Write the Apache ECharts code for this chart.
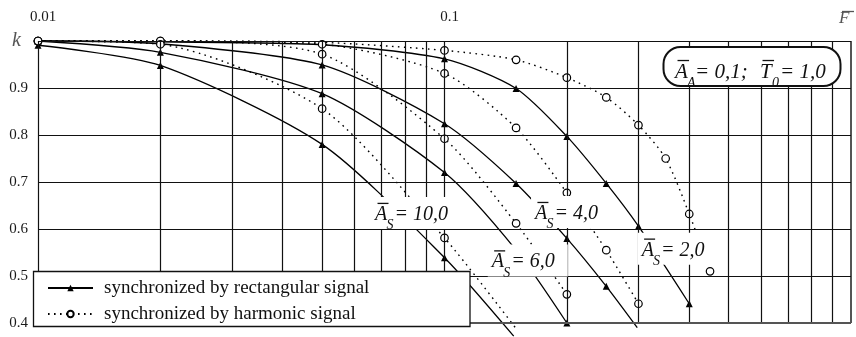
<!DOCTYPE html>
<html>
<head>
<meta charset="utf-8">
<script src="https://cdn.jsdelivr.net/npm/echarts@6/dist/echarts.min.js"></script>
<style>
  html, body { margin: 0; padding: 0; background: #fff; }
  #chart { width: 856px; height: 337px; }
</style>
</head>
<body>
<div id="chart"></div>
<script>
// Synchronization coefficient k versus normalized frequency F (log scale)

// axis ticks
const kTicks = [0.4, 0.5, 0.6, 0.7, 0.8, 0.9, 1.0];
const fGrid = [0.01, 0.02, 0.03, 0.04, 0.05, 0.06, 0.07, 0.08, 0.09,
               0.1, 0.2, 0.3, 0.4, 0.5, 0.6, 0.7, 0.8, 0.9, 1.0];
const fLabels = ['0.01', '0.1'];

// synchronized by rectangular signal, A_S = 2, 4, 6, 10
const rect2F = [0.01, 0.02, 0.05, 0.1, 0.15, 0.2, 0.25, 0.3, 0.4];
const rect2K = [1.0, 0.998, 0.992, 0.962, 0.899, 0.797, 0.697, 0.606, 0.441];
const rect2Bare = [0.02, 0.05];

const rect4F = [0.01, 0.02, 0.05, 0.1, 0.15, 0.2, 0.25, 0.298];
const rect4K = [1.0, 0.994, 0.949, 0.824, 0.697, 0.580, 0.478, 0.390];
const rect4Bare = [0.02, 0.298];

const rect6F = [0.01, 0.02, 0.05, 0.1, 0.15, 0.2];
const rect6K = [1.0, 0.976, 0.888, 0.720, 0.555, 0.400];
const rect6Bare = [0.15];

const rect10F = [0.01, 0.02, 0.05, 0.1, 0.148];
const rect10K = [0.991, 0.948, 0.780, 0.539, 0.372];
const rect10Bare = [0.148];

// synchronized by harmonic signal, A_S = 2, 4, 6, 10
const harm2F = [0.01, 0.02, 0.05, 0.1, 0.15, 0.2, 0.25, 0.3, 0.35, 0.4, 0.45];
const harm2K = [1.0, 1.0, 0.997, 0.980, 0.960, 0.922, 0.880, 0.821, 0.750, 0.632, 0.510];
const harm2Bare = [0.05];

const harm4F = [0.01, 0.02, 0.05, 0.1, 0.15, 0.2, 0.25, 0.3];
const harm4K = [1.0, 1.0, 0.993, 0.931, 0.815, 0.677, 0.555, 0.441];
const harm4Bare = [];

const harm6F = [0.01, 0.02, 0.05, 0.1, 0.15, 0.2];
const harm6K = [1.0, 1.0, 0.972, 0.792, 0.612, 0.461];
const harm6Bare = [];

const harm10F = [0.01, 0.02, 0.05, 0.1, 0.15];
const harm10K = [1.0, 0.993, 0.856, 0.581, 0.388];
const harm10Bare = [0.15];

const RECT = 'synchronized by rectangular signal';
const HARM = 'synchronized by harmonic signal';
const SERIF = '"Liberation Serif", "DejaVu Serif", serif';

function curve(name, f, k, bare, harmonic) {
  return {
    type: 'line',
    name: name,
    smooth: 0.25,
    clip: false,
    silent: true,
    z: harmonic ? 4 : 3,
    symbol: harmonic ? 'circle' : 'triangle',
    symbolSize: harmonic ? 7.5 : 7,
    lineStyle: harmonic
      ? { color: '#000', width: 1.4, type: [1.6, 4.4] }
      : { color: '#000', width: 1.3, type: 'solid' },
    itemStyle: harmonic
      ? { color: '#fff', borderColor: '#000', borderWidth: 1.2 }
      : { color: '#000', borderWidth: 0 },
    emphasis: { disabled: true },
    data: f.map((x, i) => bare.indexOf(x) >= 0
      ? { value: [x, k[i]], symbol: 'none' }
      : [x, k[i]])
  };
}

// grid lines drawn as mark lines at every decade subdivision
const gridLines = [];
fGrid.forEach(v => {
  const item = { xAxis: v };
  if (v === 1.0) item.lineStyle = { color: '#555', width: 2 };
  gridLines.push(item);
});
kTicks.forEach(v => {
  const item = { yAxis: v };
  if (v === 0.4) item.lineStyle = { color: '#555', width: 2 };
  gridLines.push(item);
});

const chart = echarts.init(document.getElementById('chart'));

const option = {
  animation: false,
  backgroundColor: '#fff',
  grid: { left: 38, top: 41, right: 5, bottom: 14 },
  xAxis: {
    type: 'log', logBase: 10, min: 0.01, max: 1,
    position: 'top',
    axisLine: { show: false }, axisTick: { show: false }, splitLine: { show: false },
    axisLabel: {
      margin: 16, padding: [0, 0, 0, 10],
      fontFamily: SERIF, fontSize: 15, color: '#1a1a1a',
      formatter: v => {
        const s = fLabels.find(l => Math.abs(parseFloat(l) - v) < 1e-9);
        return s || '';
      }
    }
  },
  yAxis: {
    type: 'value', min: 0.4, max: 1.0, interval: 0.1,
    axisLine: { show: false }, axisTick: { show: false }, splitLine: { show: false },
    axisLabel: {
      margin: 10, fontFamily: SERIF, fontSize: 15, color: '#1a1a1a',
      formatter: v => Math.abs(v - 1) < 1e-9 ? '' : v.toFixed(1)
    }
  },
  legend: {
    z: 20,
    left: 47, top: 278,
    padding: 0,
    orient: 'vertical',
    itemGap: 6,
    itemWidth: 45, itemHeight: 8,
    selectedMode: false,
    data: [{ name: RECT }, { name: HARM }],
    textStyle: { fontFamily: SERIF, fontSize: 19, color: '#111', lineHeight: 20, padding: [0, 0, 0, 6] }
  },
  series: [
    {
      type: 'line', data: [], silent: true, z: 1,
      markLine: {
        silent: true, animation: false, symbol: ['none', 'none'],
        label: { show: false },
        emphasis: { disabled: true },
        lineStyle: { color: '#111', width: 1.2, type: 'solid' },
        data: gridLines
      }
    },
    curve(RECT, rect2F, rect2K, rect2Bare, false),
    curve(RECT, rect4F, rect4K, rect4Bare, false),
    curve(RECT, rect6F, rect6K, rect6Bare, false),
    curve(RECT, rect10F, rect10K, rect10Bare, false),
    curve(HARM, harm2F, harm2K, harm2Bare, true),
    curve(HARM, harm4F, harm4K, harm4Bare, true),
    curve(HARM, harm6F, harm6K, harm6Bare, true),
    curve(HARM, harm10F, harm10K, harm10Bare, true)
  ]
};
chart.setOption(option);

// text with an overlined main letter and a subscript: e.g. A-bar sub S
function barred(x, y, letter, sub, rest, size, z) {
  const subSize = Math.round(size * 0.68);
  const mid = -0.32 * size;          // vertical centre of the main glyphs relative to baseline
  const font = 'italic ' + size + 'px ' + SERIF;
  const subFont = 'italic ' + subSize + 'px ' + SERIF;
  const letterW = size * 0.62;
  return [
    { type: 'text', z: z, x: x, y: y + mid, style: { text: letter, font: font, fill: '#111', verticalAlign: 'middle' } },
    { type: 'line', z: z, shape: { x1: x + size * 0.12, y1: y - size * 0.88, x2: x + letterW + size * 0.05, y2: y - size * 0.88 },
      style: { stroke: '#111', lineWidth: 1.3 } },
    { type: 'text', z: z, x: x + letterW - 1, y: y + size * 0.22, style: { text: sub, font: subFont, fill: '#111', verticalAlign: 'middle' } },
    { type: 'text', z: z, x: x + letterW + subSize * 0.5, y: y + mid, style: { text: rest, font: font, fill: '#111', verticalAlign: 'middle' } }
  ];
}

function curveLabel(f, k, rest, width) {
  const p = chart.convertToPixel({ gridIndex: 0 }, [f, k]);
  return {
    type: 'group',
    children: [
      { type: 'rect', z: 10, shape: { x: p[0] - 4, y: p[1] - 24, width: width, height: 32 }, style: { fill: '#fff' } }
    ].concat(barred(p[0], p[1], 'A', 'S', '= ' + rest, 20, 11))
  };
}

const graphics = [
  // legend frame
  { type: 'rect', z: 15, shape: { x: 33.5, y: 271.5, width: 436.5, height: 55 },
    style: { fill: '#fff', stroke: '#111', lineWidth: 1.3 } },
  // curve labels
  curveLabel(0.0675, 0.617, '10,0', 92),
  curveLabel(0.167, 0.619, '4,0', 80),
  curveLabel(0.1307, 0.516, '6,0', 80),
  curveLabel(0.3056, 0.541, '2,0', 80),
  // parameter box
  {
    type: 'group',
    children: [
      { type: 'rect', z: 10, shape: { x: 663.5, y: 47, width: 177, height: 39, r: 17 },
        style: { fill: '#fff', stroke: '#111', lineWidth: 2 } }
    ].concat(barred(675, 79, 'A', 'A', '= 0,1;', 21, 11), barred(760, 79, 'T', '0', '= 1,0', 21, 11))
  },
  // axis names
  { type: 'text', z: 10, x: 12, y: 41, style: { text: 'k', font: 'italic 20px ' + SERIF, fill: '#555', verticalAlign: 'middle' } },
  { type: 'text', z: 10, x: 839, y: 19, style: { text: 'F', font: 'italic 17px ' + SERIF, fill: '#555', verticalAlign: 'middle' } },
  { type: 'line', z: 10, shape: { x1: 842, y1: 11.5, x2: 854, y2: 11.5 }, style: { stroke: '#555', lineWidth: 1.3 } }
];

chart.setOption({ graphic: graphics });
</script>
</body>
</html>
